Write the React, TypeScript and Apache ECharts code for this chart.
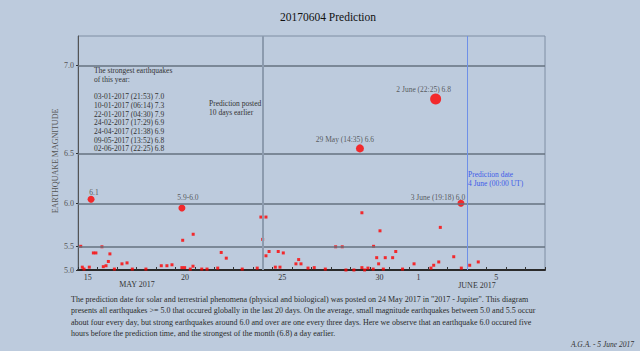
import React, { useEffect, useRef } from "react";
import * as echarts from "echarts";

// ---------- data ----------
const TITLE = "20170604 Prediction";
const Y_AXIS_NAME = "EARTHQUAKE MAGNITUDE";

// Non-linear magnitude axis of the original: tick magnitudes and their scale positions
const MAG_TICKS = [5.0, 5.5, 6.0, 6.5, 7.0];
const MAG_TICK_POS = [0, 23.7, 66.7, 116.3, 204.7];
const Y_SCALE_MAX = 234;

// x in days since 15 May 2017 00:00 UT
const X_MIN = 0;
const X_MAX = 24;
const X_LABEL_DAYS = [0.5, 5.5, 10.5, 15.5, 17.5, 21.5];
const X_LABELS = ["15", "20", "25", "30", "1", "5"];
const MONTH_LABELS = ["MAY 2017", "JUNE 2017"];

const POSTED_DAY = 9.5; // 24 May
const PREDICTION_DAY = 20; // 4 June 00:00 UT

// small earthquakes: [day, magnitude]
const SMALL_QUAKES: [number, number][] = [
  [0.14, 5.5], [0.22, 5.06], [0.31, 5.02], [0.58, 5.06], [0.79, 5.36], [0.92, 5.36],
  [1.23, 5.49], [1.3, 5.07], [1.44, 5.09], [1.56, 5.18], [1.64, 5.34], [1.87, 5.02],
  [2.26, 5.13], [2.52, 5.15], [2.79, 5.02], [3.49, 5.02], [4.28, 5.09], [4.57, 5.09],
  [4.83, 5.11], [5.34, 5.05], [5.48, 5.05], [5.38, 5.57], [5.92, 5.64], [5.77, 5.02],
  [5.91, 5.08], [6.36, 5.02], [6.63, 5.02], [7.18, 5.04], [7.36, 5.37], [7.62, 5.25],
  [8.44, 5.02], [9.21, 5.04], [9.4, 5.84], [9.66, 5.84], [9.49, 5.58], [9.82, 5.39],
  [9.66, 5.3], [10.14, 5.06], [10.38, 5.06], [10.29, 5.39], [10.55, 5.36], [11.2, 5.13],
  [11.34, 5.22], [11.46, 5.13], [11.82, 5.04], [12.14, 5.05], [12.71, 5.02], [13.24, 5.49],
  [13.58, 5.49], [13.77, 5.0], [14.18, 5.0], [14.59, 5.89], [14.59, 5.05], [14.73, 5.0],
  [14.9, 5.04], [15.19, 5.5], [15.17, 5.02], [15.35, 5.26], [15.45, 5.13], [15.52, 5.68],
  [15.79, 5.26], [15.69, 5.02], [16.17, 5.26], [16.33, 5.39], [16.68, 5.02], [17.27, 5.13],
  [18.14, 5.04], [18.28, 5.1], [18.54, 5.17], [18.62, 5.72], [19.31, 5.28], [19.7, 5.04],
  [20.13, 5.1], [20.57, 5.17],
];

// strong earthquakes
const BIG_DAYS = [0.67, 5.34, 14.49, 18.38, 19.68];
const BIG_MAGS = [6.04, 5.945, 6.53, 6.81, 6.0];
const BIG_LABELS = ["6.1", "5.9-6.0", "29 May (14:35) 6.6", "2 June (22:25) 6.8", "3 June (19:18) 6.0"];

const STRONGEST_HEADER = ["The strongest earthquakes", "of this year:"];
const STRONGEST = [
  "03-01-2017 (21:53) 7.0",
  "10-01-2017 (06:14) 7.3",
  "22-01-2017 (04:30) 7.9",
  "24-02-2017 (17:29) 6.9",
  "24-04-2017 (21:38) 6.9",
  "09-05-2017 (13:52) 6.8",
  "02-06-2017 (22:25) 6.8",
];

const POSTED_TEXT = ["Prediction posted", "10 days earlier"];
const PREDICTION_TEXT = ["Prediction date", "4 June (00:00 UT)"];

const PARAGRAPH = [
  'The prediction date for solar and terrestrial phenomena (physical and biological) was posted on 24 May 2017 in "2017 - Jupiter". This diagram',
  "presents all earthquakes >= 5.0 that occured globally in the last 20 days. On the average, small magnitude earthquakes between 5.0 and 5.5 occur",
  "about four every day, but strong earthquakes around 6.0 and over are one every three days. Here we observe that an earthquake 6.0 occured five",
  "hours before the prediction time, and the strongest of the month (6.8) a day earlier.",
];
const SIGNATURE = "A.G.A. - 5 June 2017";

// ---------- helpers ----------
function toScale(m: number): number {
  const n = MAG_TICKS.length;
  let i = 0;
  if (m >= MAG_TICKS[n - 1]) i = n - 2;
  else {
    while (i < n - 2 && m > MAG_TICKS[i + 1]) i++;
  }
  const m0 = MAG_TICKS[i], m1 = MAG_TICKS[i + 1];
  const p0 = MAG_TICK_POS[i], p1 = MAG_TICK_POS[i + 1];
  return p0 + ((m - m0) / (m1 - m0)) * (p1 - p0);
}

function nearestIndex(arr: number[], v: number): number {
  let best = 0;
  for (let i = 1; i < arr.length; i++) if (Math.abs(arr[i] - v) < Math.abs(arr[best] - v)) best = i;
  return best;
}

const SERIF = '"Liberation Serif", "DejaVu Serif", serif';

export default function App() {
  const ref = useRef<HTMLDivElement>(null);

  useEffect(() => {
    document.body.style.margin = "0";
    if (!ref.current) return;
    const chart = echarts.init(ref.current, undefined, { renderer: "svg" });

    const bigSizes = [7, 7, 8, 11, 7];
    const labelOffsets: [number, number][] = [[3, -7], [6, -11], [-15, -9], [-12, -9], [-23, -6]];

    const textEl = (text: string, x: number, y: number, size: number, fill: string, extra: any = {}) => ({
      type: "text",
      x,
      y,
      silent: true,
      style: {
        text,
        font: `${extra.italic ? "italic " : ""}${size}px ${SERIF}`,
        fill,
        align: extra.align || "left",
        verticalAlign: extra.verticalAlign || "middle",
        lineHeight: extra.lineHeight,
      },
      rotation: extra.rotation || 0,
    });

    const option: any = {
      animation: false,
      backgroundColor: "#bdcbdd",
      grid: {
        left: 78,
        right: 95,
        top: 36,
        bottom: 81,
        show: true,
        borderColor: "#7f8ea3",
        borderWidth: 1,
        backgroundColor: "transparent",
      },
      xAxis: {
        type: "value",
        min: X_MIN,
        max: X_MAX,
        interval: 1,
        axisLine: { show: true, onZero: false, lineStyle: { color: "#2a2a2a", width: 2 } },
        axisTick: { show: true, inside: true, length: 3, lineStyle: { color: "#333", width: 1 } },
        splitLine: { show: false },
        axisLabel: {
          customValues: X_LABEL_DAYS,
          formatter: (v: number) => X_LABELS[nearestIndex(X_LABEL_DAYS, v)],
          color: "#333",
          fontFamily: SERIF,
          fontSize: 8,
          margin: 3,
        },
      },
      yAxis: {
        type: "value",
        min: 0,
        max: Y_SCALE_MAX,
        axisLine: { show: true, lineStyle: { color: "#555", width: 1 } },
        axisTick: { show: true, customValues: MAG_TICK_POS, length: 2, lineStyle: { color: "#333" } },
        splitLine: { show: false },
        axisLabel: {
          customValues: MAG_TICK_POS,
          formatter: (v: number) => MAG_TICKS[nearestIndex(MAG_TICK_POS, v)].toFixed(1),
          color: "#555",
          fontFamily: SERIF,
          fontSize: 8,
          margin: 4,
        },
      },
      series: [
        {
          type: "scatter",
          data: [],
          z: 1,
          silent: true,
          markLine: {
            silent: true,
            symbol: ["none", "none"],
            label: { show: false },
            data: [
              ...MAG_TICK_POS.slice(1).map((p) => ({ yAxis: p, lineStyle: { color: "#66727f", width: 1.5, type: "solid" } })),
              { xAxis: POSTED_DAY, lineStyle: { color: "#8c9bae", width: 2, type: "solid" } },
              { xAxis: PREDICTION_DAY, lineStyle: { color: "#6e90e8", width: 1, type: "solid" } },
            ],
          },
        },
        {
          type: "scatter",
          z: 3,
          symbol: "rect",
          symbolSize: 3,
          itemStyle: { color: "#ff0000" },
          data: SMALL_QUAKES.map(([d, m]) => [d, toScale(m)]),
        },
        {
          type: "scatter",
          z: 4,
          symbol: "circle",
          itemStyle: { color: "#ff0000" },
          data: BIG_DAYS.map((d, i) => ({
            value: [d, toScale(BIG_MAGS[i])],
            symbolSize: bigSizes[i],
            label: {
              show: true,
              formatter: BIG_LABELS[i],
              position: "inside",
              offset: labelOffsets[i],
              color: "#3a3a3a",
              fontFamily: SERIF,
              fontSize: 7.5,
              align: "center",
              verticalAlign: "middle",
            },
          })),
        },
      ],
      graphic: [
        textEl(TITLE, 328, 17, 11.5, "#111", { align: "center" }),
        textEl(Y_AXIS_NAME, 55, 161, 8, "#555", { align: "center", rotation: Math.PI / 2 }),
        textEl(STRONGEST_HEADER.join("\n"), 94, 66.4, 7.5, "#333", { verticalAlign: "top", lineHeight: 8.7 }),
        textEl(STRONGEST.join("\n"), 94, 92.3, 7.5, "#333", { verticalAlign: "top", lineHeight: 8.7 }),
        textEl(POSTED_TEXT.join("\n"), 209, 99, 7.5, "#333", { verticalAlign: "top", lineHeight: 9 }),
        textEl(PREDICTION_TEXT.join("\n"), 468, 169.5, 7.5, "#3d5ce8", { verticalAlign: "top", lineHeight: 9.3 }),
        textEl(MONTH_LABELS[0], 137, 284, 8, "#333", { align: "center" }),
        textEl(MONTH_LABELS[1], 477, 285, 8, "#333", { align: "center" }),
        textEl(PARAGRAPH.join("\n"), 71, 293.5, 8, "#2b2b2b", { verticalAlign: "top", lineHeight: 11.4 }),
        textEl(SIGNATURE, 634, 344, 7.5, "#333", { align: "right", italic: true }),
      ],
    };

    chart.setOption(option);
    return () => chart.dispose();
  }, []);

  return <div ref={ref} style={{ width: 640, height: 351 }} />;
}
